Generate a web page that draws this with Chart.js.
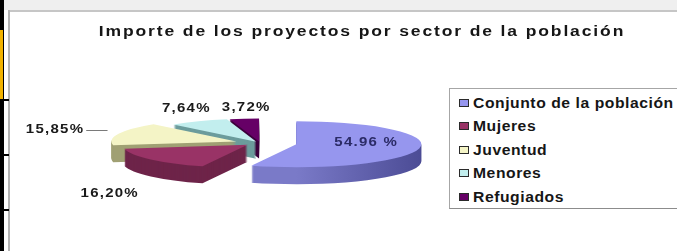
<!DOCTYPE html>
<html>
<head>
<meta charset="utf-8">
<script src="https://cdn.jsdelivr.net/npm/chart.js@4.4.1/dist/chart.umd.min.js"></script>
<style>
  html, body { margin:0; padding:0; background:#fff; width:677px; height:251px; overflow:hidden; position:relative;
    font-family:"Liberation Sans", Arial, Helvetica, sans-serif; }
  .d { position:absolute; }
  #c { position:absolute; left:0; top:0; }
  #title { position:absolute; left:362px; top:31px; white-space:nowrap; font-weight:bold; font-size:14px;
    letter-spacing:1.5px; color:#161616; transform:translate(-50%,-50%) scaleX(1.25); }
  #legend { position:absolute; left:449px; top:88px; width:240px; height:119px; border:1px solid #a6a6a6;
    border-bottom-color:#8c8c8c; background:#fff; }
  .sw { position:absolute; left:9px; width:8px; height:6px; border:1px solid #2a2a2a; }
  .lt { position:absolute; left:23px; white-space:nowrap; font-weight:bold; font-size:14px; letter-spacing:0.5px;
    color:#161616; transform-origin:left center; transform:translateY(-50%) scaleX(1.12); line-height:16px; }
</style>
</head>
<body>
<div class="d" style="left:4px;top:0;width:673px;height:10px;background:#efefef"></div>
<div class="d" style="left:8px;top:10px;width:669px;height:2px;background:#c6c6c6"></div>
<div class="d" style="left:8px;top:10px;width:2px;height:241px;background:#b4b4b4"></div>
<canvas id="c" width="677" height="251"></canvas>
<div class="d" style="left:0;top:0;width:4px;height:251px;background:#000"></div>
<div class="d" style="left:0;top:30px;width:3px;height:70px;background:#f2b300"></div>
<div class="d" style="left:0;top:99px;width:9px;height:2px;background:#000"></div>
<div class="d" style="left:0;top:154px;width:9px;height:2px;background:#000"></div>
<div class="d" style="left:0;top:209px;width:9px;height:2px;background:#000"></div>
<div id="title">Importe de los proyectos por sector de la población</div>
<div id="legend"></div>
<script>
// ---- data ----
const categories = ['Conjunto de la población', 'Mujeres', 'Juventud', 'Menores', 'Refugiados'];
const values = [54.96, 16.20, 15.85, 7.64, 3.72];
const labelTexts = ['54.96 %', '16,20%', '15,85%', '7,64%', '3,72%'];
const chartTitle = 'Importe de los proyectos por sector de la población';

// ---- styling ----
const topColors  = ['#9696ee', '#993366', '#f4f4c6', '#c2eeee', '#660066'];
const sideColors = ['#5e5eae', '#6e2449', '#a0a074', '#6c9c9c', '#3c003c'];
const explode = [37, 16, 25, 8, 8];
const labelRadius = [0.56, 1, 1, 1, 1];
const labelNudge = [[1, -3.5], [-41, 34], [-63.5, -4], [-12, -13], [2, -11]];
const labelColors = ['#2b2b66', '#1a1a1a', '#1a1a1a', '#1a1a1a', '#1a1a1a'];
const leader = [false, false, true, false, false];
const SQUASH = 0.184, DEPTH = 17;

document.getElementById('title').textContent = chartTitle;
const lg = document.getElementById('legend');
categories.forEach((c, i) => {
  const yc = 13.5 + i * 23.5;
  const sw = document.createElement('div');
  sw.className = 'sw'; sw.style.top = (yc - 4) + 'px'; sw.style.background = topColors[i];
  const t = document.createElement('div');
  t.className = 'lt'; t.style.top = yc + 'px'; t.textContent = c;
  lg.appendChild(sw); lg.appendChild(t);
});

const pie3d = {
  id: 'pie3d',
  beforeDatasetsDraw() { return false; },
  afterDraw(chart) {
    const ctx = chart.ctx;
    const arcs = chart.getDatasetMeta(0).data;
    const cx = arcs[0].x, cy = arcs[0].y, R = arcs[0].outerRadius;
    const mids = arcs.map(a => (a.startAngle + a.endAngle) / 2);
    const shift = arcs.map((a, i) => [Math.cos(mids[i]) * explode[i], Math.sin(mids[i]) * explode[i]]);
    const paint = (a, i, color) => {
      const p = Object.create(a);
      p.options = Object.assign({}, a.options, { backgroundColor: color, borderWidth: 0, offset: 0 });
      ctx.save();
      ctx.translate(cx, cy); ctx.scale(1, SQUASH); ctx.translate(-cx, -cy);
      ctx.translate(shift[i][0], shift[i][1]);
      p.draw(ctx);
      ctx.restore();
    };
    const blueSide = ctx.createLinearGradient(cx, 0, cx + explode[0] + R, 0);
    blueSide.addColorStop(0, '#7a7ac8');
    blueSide.addColorStop(1, '#3e3e86');
    for (let d = DEPTH; d >= 1; d--) {
      ctx.save(); ctx.translate(0, d);
      arcs.forEach((a, i) => paint(a, i, i === 0 ? blueSide : sideColors[i]));
      ctx.restore();
    }
    arcs.forEach((a, i) => paint(a, i, topColors[i]));

    // labels
    ctx.save();
    ctx.font = 'bold 12px "Liberation Sans", Arial, sans-serif';
    try { ctx.letterSpacing = '1px'; } catch (e) {}
    ctx.textAlign = 'center'; ctx.textBaseline = 'middle';
    arcs.forEach((a, i) => {
      const r = labelRadius[i] * R;
      const ax = cx + shift[i][0] + Math.cos(mids[i]) * r;
      const ay = cy + (shift[i][1] + Math.sin(mids[i]) * r) * SQUASH;
      const x = ax + labelNudge[i][0], y = ay + labelNudge[i][1];
      const w = ctx.measureText(labelTexts[i]).width * 1.25;
      ctx.save(); ctx.translate(x, y); ctx.scale(1.25, 1);
      ctx.fillStyle = labelColors[i]; ctx.fillText(labelTexts[i], 0, 0);
      ctx.restore();
      if (leader[i]) {
        ctx.strokeStyle = '#7a7a7a'; ctx.lineWidth = 1;
        ctx.beginPath(); ctx.moveTo(x + w / 2 + 2, Math.round(y) + 0.5); ctx.lineTo(ax - 11, Math.round(y) + 0.5); ctx.stroke();
      }
    });
    ctx.restore();
  }
};

new Chart(document.getElementById('c'), {
  type: 'pie',
  data: { labels: categories, datasets: [{ data: values, backgroundColor: topColors, borderWidth: 0, radius: 125 }] },
  options: {
    responsive: false, animation: false, events: [],
    layout: { padding: { left: 0, right: 157, top: 35, bottom: 0 } },
    plugins: { legend: { display: false }, tooltip: { enabled: false }, title: { display: false } }
  },
  plugins: [pie3d]
});
</script>
</body>
</html>
